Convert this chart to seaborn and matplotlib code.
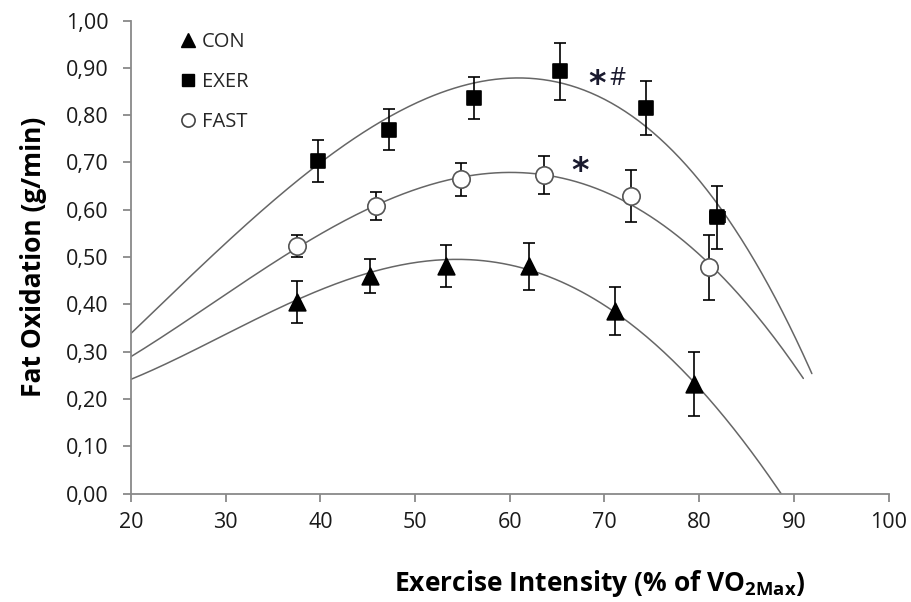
import numpy as np
import pandas as pd
import matplotlib
matplotlib.use("Agg")
import matplotlib.pyplot as plt
from matplotlib.ticker import FuncFormatter
from matplotlib.lines import Line2D
import seaborn as sns

# ---- data ----
con_x = [37.5, 45.2, 53.3, 62.0, 71.1, 79.5]
con_y = [0.405, 0.459, 0.481, 0.480, 0.386, 0.232]
con_err = [0.045, 0.036, 0.045, 0.050, 0.050, 0.068]

exer_x = [39.7, 47.2, 56.2, 65.3, 74.4, 81.9]
exer_y = [0.703, 0.769, 0.836, 0.893, 0.815, 0.584]
exer_err = [0.044, 0.043, 0.045, 0.060, 0.058, 0.067]
exer_xerr = [0.0, 0.0, 0.0, 0.0, 0.0, 0.8]

fast_x = [37.5, 45.9, 54.8, 63.6, 72.8, 81.0]
fast_y = [0.523, 0.608, 0.664, 0.673, 0.629, 0.478]
fast_err = [0.023, 0.030, 0.035, 0.040, 0.054, 0.068]
fast_xerr = [0.0, 0.0, 0.0, 0.0, 0.4, 0.4]

# trend-line values
con_curve_x = [20, 37.5, 45.2, 53.3, 62.0, 71.1, 79.5, 88.7]
con_curve_y = [0.241, 0.413, 0.464, 0.490, 0.477, 0.388, 0.228, 0.0]
fast_curve_x = [20, 37.5, 45.9, 54.8, 60.0, 63.6, 72.8, 81.0, 91.0]
fast_curve_y = [0.289, 0.522, 0.606, 0.668, 0.677, 0.675, 0.618, 0.480, 0.245]
exer_curve_x = [20, 39.7, 47.2, 56.2, 61.2, 65.3, 74.4, 81.9, 91.9]
exer_curve_y = [0.338, 0.700, 0.789, 0.867, 0.877, 0.874, 0.778, 0.608, 0.255]

groups = ["CON", "EXER", "FAST"]
x_ticks = [20, 30, 40, 50, 60, 70, 80, 90, 100]
y_ticks = [0.0, 0.1, 0.2, 0.3, 0.4, 0.5, 0.6, 0.7, 0.8, 0.9, 1.0]

sns.set_theme(style="ticks")
plt.rcParams["font.family"] = ["Open Sans", "DejaVu Sans"]

fig = plt.figure(figsize=(9.12, 6.02), dpi=100)
ax = fig.add_axes([0.1436, 0.1802, 0.8307, 0.7857])

series = {
    "CON": (con_x, con_y, con_err, None, "^", "black", "black", 12),
    "EXER": (exer_x, exer_y, exer_err, exer_xerr, "s", "black", "black", 10.5),
    "FAST": (fast_x, fast_y, fast_err, fast_xerr, "o", "white", "#555555", 12.5),
}
curves = {
    "CON": (con_curve_x, con_curve_y),
    "EXER": (exer_curve_x, exer_curve_y),
    "FAST": (fast_curve_x, fast_curve_y),
}

# smooth trend lines through the values
for g in groups:
    cx, cy = curves[g]
    coef = np.polyfit(cx, cy, 4)
    xs = np.linspace(cx[0], cx[-1], 300)
    df_line = pd.DataFrame({"x": xs, "y": np.polyval(coef, xs)})
    sns.lineplot(data=df_line, x="x", y="y", ax=ax, color="#666666",
                 linewidth=1.1, zorder=2)

# error bars + markers
for g in groups:
    x, y, e, xe, m, fc, ec, ms = series[g]
    ax.errorbar(x, y, yerr=e, xerr=xe, fmt="none", ecolor="black",
                elinewidth=1.2, capsize=4.3, capthick=1.2, zorder=3)
    df = pd.DataFrame({"x": x, "y": y})
    sns.scatterplot(data=df, x="x", y="y", ax=ax, marker=m, s=ms ** 2,
                    facecolor=fc, edgecolor=ec, linewidth=1.2, zorder=4)

ax.set_xlim(20, 100)
ax.set_ylim(0, 1.0)
ax.set_xticks(x_ticks)
ax.set_yticks(y_ticks)
ax.yaxis.set_major_formatter(FuncFormatter(lambda v, p: f"{v:.2f}".replace(".", ",")))
ax.tick_params(axis="both", labelsize=15.5, colors="#898989", labelcolor="#1a1a1a",
               length=6, width=1.3)
ax.tick_params(axis="y", pad=10)
ax.tick_params(axis="x", pad=7)
for s in ["top", "right"]:
    ax.spines[s].set_visible(False)
for s in ["left", "bottom"]:
    ax.spines[s].set_color("#898989")
    ax.spines[s].set_linewidth(1.3)

ax.set_xlabel("Exercise Intensity (% of VO$_{\\mathregular{2Max}}$)", fontsize=19,
              fontweight="bold", color="black")
ax.xaxis.set_label_coords(0.619, -0.158)
ax.set_ylabel("Fat Oxidation (g/min)", fontsize=19, fontweight="bold", labelpad=14,
              color="black")

ax.text(69.2, 0.872, "*", fontsize=24, fontweight="bold", color="#1a1a2e",
        family="DejaVu Sans", va="center_baseline", ha="center")
ax.text(71.4, 0.878, "#", fontsize=18, color="#1a1a2e", va="center", ha="center")
ax.text(67.4, 0.688, "*", fontsize=24, fontweight="bold", color="#1a1a2e",
        family="DejaVu Sans", va="center_baseline", ha="center")

handles = [
    Line2D([], [], linestyle="none", marker="^", markersize=10, color="black", label="CON"),
    Line2D([], [], linestyle="none", marker="s", markersize=9, color="black", label="EXER"),
    Line2D([], [], linestyle="none", marker="o", markersize=9.5, markerfacecolor="white",
           markeredgecolor="#444444", markeredgewidth=1.2, label="FAST"),
]
ax.legend(handles=handles, loc="upper left", bbox_to_anchor=(0.043, 1.005),
          frameon=False, fontsize=14.5, labelspacing=0.98, handletextpad=0.2,
          handlelength=1.0, borderaxespad=0.3)

fig.savefig("out.png", dpi=100)
